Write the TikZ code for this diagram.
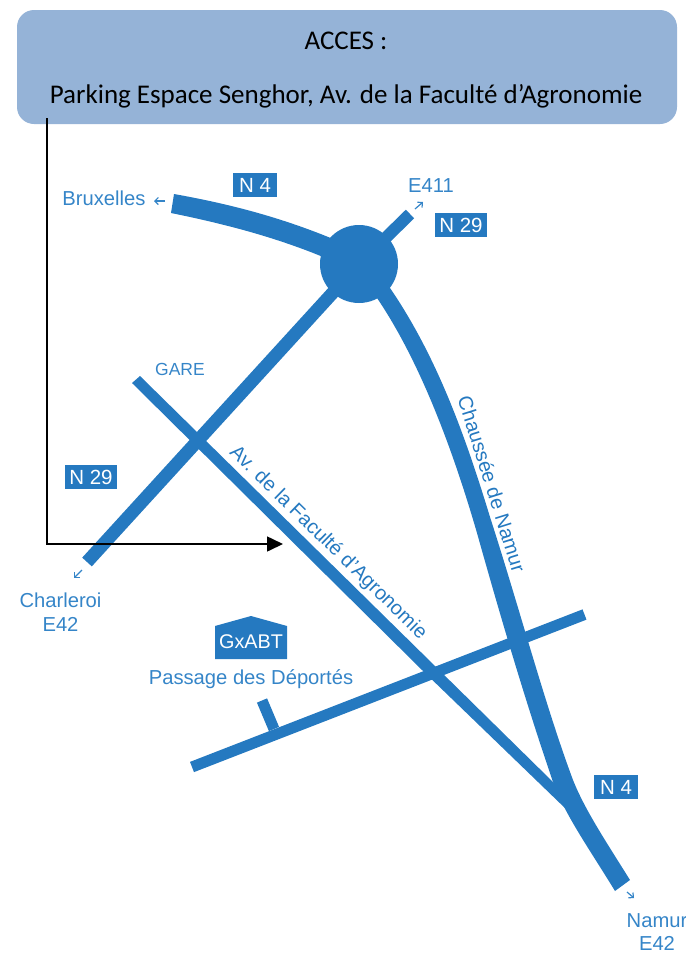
\documentclass[tikz,border=0pt]{standalone}
\usepackage{fontspec}
\setmainfont{Liberation Sans}
\newfontfamily\headfont{Carlito}
\usetikzlibrary{arrows.meta}
\definecolor{roadblue}{HTML}{2579C0}
\definecolor{textblue}{HTML}{3585C8}
\definecolor{headblue}{HTML}{95B3D7}
\tikzset{
  x=1pt,y=-1pt,
  road/.style={draw=roadblue,line cap=butt,line join=round},
  roadfill/.style={fill=roadblue,draw=none},
  roadtag/.style={fill=roadblue,text=white,font=\fontsize{20.5}{20.5}\selectfont,inner sep=0pt,minimum height=24pt,anchor=center},
  place/.style={text=textblue,font=\fontsize{20.2}{23.5}\selectfont,align=center,inner sep=0pt},
  roadname/.style={text=roadblue,font=\fontsize{20}{20}\selectfont,inner sep=0pt},
  tick/.style={draw=textblue,line width=1.2pt,-{Straight Barb[length=3.5pt,width=7pt]}},
  headtext/.style={text=black,font=\headfont\fontsize{27}{27}\selectfont,inner sep=0pt,anchor=base},
}
\begin{document}
\begin{tikzpicture}
\useasboundingbox (0,0) rectangle (686,954);
% header
\node[fill=headblue,rounded corners=17pt,minimum width=660pt,minimum height=114pt,inner sep=0pt] (head) at (347,67) {};
\node[headtext] (acces) at (346,49) {ACCES :};
\node[headtext] (park) at (346,103) {Parking Espace Senghor, Av. de la Faculté d’Agronomie};
% roads
\node[circle,fill=roadblue,minimum size=78pt,inner sep=0pt] (rond) at (359,264) {};
\coordinate (e411end) at (410,214);
\coordinate (n29end) at (87,562);
\draw[road,line width=12pt] (rond.center) -- (e411end);
\draw[road,line width=13pt] (rond.center) -- (n29end);
\path[roadfill] (174,194) .. controls (230,204) and (285,218) .. (345,244) -- (335,262) .. controls (280,238) and (225,224) .. (171,213) -- cycle;
% N4 south
\path[roadfill] (370,288) .. controls (415,350) and (450,440) .. (477,533)
  .. controls (500,615) and (525,700) .. (553,782)
  .. controls (565,815) and (590,850) .. (615,891)
  -- (630,880) .. controls (605,840) and (585,810) .. (573,780)
  .. controls (545,705) and (520,610) .. (490,517)
  .. controls (465,435) and (435,350) .. (383,278) -- cycle;
% Av. de la Faculte
\path[roadfill] (132,383) -- (140,376) -- (553,782) -- (575,805) -- (567,810) -- (422,670) -- cycle;
% cross road
\coordinate (crossa) at (192,767);
\coordinate (crossb) at (584.5,614.5);
\coordinate (stuba) at (262,700.5);
\coordinate (stubb) at (274,729);
\draw[road,line width=11pt] (crossa) -- (crossb);
\draw[road,line width=11pt] (stuba) -- (stubb);
% labels
\node[roadtag,minimum width=44pt] (n4a) at (255,185) {N 4};
\node[roadtag,minimum width=52pt] (n29a) at (461,225) {N 29};
\node[roadtag,minimum width=52pt] (n29b) at (91,477) {N 29};
\node[roadtag,minimum width=44pt] (n4b) at (616,787) {N 4};
\node[place] (brux) at (104,198) {Bruxelles};
\node[place] (e411) at (431,186) {E411};
\node[place] (charl) at (60.5,612) {Charleroi\\E42};
\node[place] (namur) at (657,932) {Namur\\E42};
\node[place,font=\fontsize{17.5}{20}\selectfont] (gare) at (180,369) {GARE};
\node[place] (pass) at (251,679) {Passage des Déportés};
\node[roadname,rotate=-44.3] (av) at (328,543) {Av. de la Faculté d'Agronomie};
\node[roadname,rotate=-72.5] (ch) at (492,484) {Chaussée de Namur};
% house
\path[roadfill] (215,626) -- (251,616) -- (287,626) -- (287,659) -- (215,659) -- cycle;
\node[text=white,font=\fontsize{19.8}{19.8}\selectfont,inner sep=0pt] (gx) at (251,642) {GxABT};
% small arrows
\coordinate (b1) at (165,201); \coordinate (b2) at (154,201);
\coordinate (e1) at (415,209); \coordinate (e2) at (423,202);
\coordinate (c1) at (82,570); \coordinate (c2) at (74,578);
\coordinate (m1) at (627,892); \coordinate (m2) at (634,898);
\draw[tick] (b1) -- (b2);
\draw[tick] (e1) -- (e2);
\draw[tick] (c1) -- (c2);
\draw[tick] (m1) -- (m2);
% connector
\coordinate (cstart) at (47,118);
\coordinate (cend) at (283,544);
\draw[black,line width=1.6pt,-{Triangle[length=16pt,width=15pt]}] (cstart) |- (cend);
\end{tikzpicture}
\end{document}
